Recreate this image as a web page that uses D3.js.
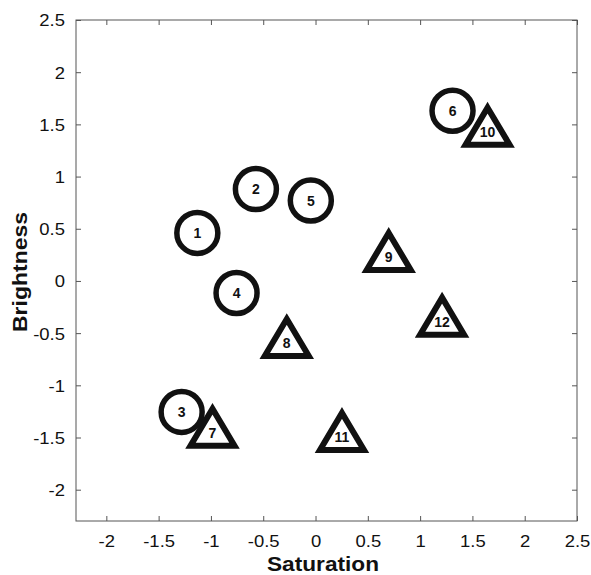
<!DOCTYPE html>
<html>
<head>
<meta charset="utf-8">
<script src="https://cdn.jsdelivr.net/npm/d3@7"></script>
<style>
  html, body { margin: 0; padding: 0; background: #fff; }
  svg { display: block; font-family: Arial, "Liberation Sans", Helvetica, sans-serif; }
</style>
</head>
<body>
<svg id="chart" width="591" height="575"></svg>
<script>
// ---- data ----
const circleLabels = ["1", "2", "3", "4", "5", "6"];
const circleX = [-1.13, -0.57, -1.28, -0.755, -0.045, 1.31];
const circleY = [0.46, 0.88, -1.255, -0.115, 0.77, 1.63];

const triLabels = ["7", "8", "9", "10", "11", "12"];
const triX = [-0.985, -0.275, 0.70, 1.645, 0.253, 1.21];
const triY = [-1.455, -0.595, 0.23, 1.43, -1.495, -0.39];

const xTicks = [-2, -1.5, -1, -0.5, 0, 0.5, 1, 1.5, 2, 2.5];
const yTicks = [-2, -1.5, -1, -0.5, 0, 0.5, 1, 1.5, 2, 2.5];
const xDomain = [-2.29, 2.5];
const yDomain = [-2.3, 2.5];
const xTitle = "Saturation";
const yTitle = "Brightness";

// ---- layout ----
const L = 76, R = 577, T = 20, B = 521;
const svg = d3.select("#chart");
const x = d3.scaleLinear().domain(xDomain).range([L, R]);
const y = d3.scaleLinear().domain(yDomain).range([B, T]);
const fmt = d => String(d);
const axisColor = "#555";
const sx = 1.12;

// bottom axis (ticks inward)
const gx = svg.append("g").attr("transform", `translate(0,${B})`)
  .call(d3.axisBottom(x).tickValues(xTicks).tickFormat(fmt).tickSizeInner(-5).tickSizeOuter(0).tickPadding(14));
// left axis (ticks inward)
const gy = svg.append("g").attr("transform", `translate(${L},0)`)
  .call(d3.axisLeft(y).tickValues(yTicks).tickFormat(fmt).tickSizeInner(-5).tickSizeOuter(0).tickPadding(11));
// top & right (ticks only)
const gt = svg.append("g").attr("transform", `translate(0,${T})`)
  .call(d3.axisTop(x).tickValues(xTicks).tickFormat("").tickSizeInner(-5).tickSizeOuter(0));
const gr = svg.append("g").attr("transform", `translate(${R},0)`)
  .call(d3.axisRight(y).tickValues(yTicks).tickFormat("").tickSizeInner(-5).tickSizeOuter(0));

[gx, gy, gt, gr].forEach(g => {
  g.select(".domain").remove();
  g.selectAll(".tick line").attr("stroke", axisColor).attr("stroke-width", 1);
});
gx.selectAll(".tick text").attr("font-size", 16.5).attr("fill", "#111")
  .attr("transform", `scale(${sx},1)`);
gy.selectAll(".tick text").attr("font-size", 16.5).attr("fill", "#111")
  .attr("dy", "0.36em");
gy.selectAll(".tick text").each(function () {
  const t = d3.select(this);
  const xx = +t.attr("x");
  t.attr("x", xx / sx).attr("transform", `scale(${sx},1)`);
});

// box
svg.append("rect")
  .attr("x", L).attr("y", T).attr("width", R - L).attr("height", B - T)
  .attr("fill", "none").attr("stroke", axisColor).attr("stroke-width", 1);

// axis titles
svg.append("text")
  .attr("x", 323).attr("y", 571)
  .attr("text-anchor", "middle").attr("font-size", 21).attr("font-weight", "bold")
  .attr("fill", "#111")
  .attr("textLength", 112).attr("lengthAdjust", "spacingAndGlyphs")
  .text(xTitle);
svg.append("text")
  .attr("transform", `translate(27,272) rotate(-90)`)
  .attr("text-anchor", "middle").attr("font-size", 21).attr("font-weight", "bold")
  .attr("fill", "#111")
  .attr("textLength", 120).attr("lengthAdjust", "spacingAndGlyphs")
  .text(yTitle);

// markers
const circles = circleLabels.map((lab, i) => ({ lab, x: circleX[i], y: circleY[i] }));
const tris = triLabels.map((lab, i) => ({ lab, x: triX[i], y: triY[i] }));

const cg = svg.append("g").selectAll("g").data(circles).join("g")
  .attr("transform", d => `translate(${x(d.x)},${y(d.y)})`);
cg.append("circle").attr("r", 20.5).attr("fill", "#fff")
  .attr("stroke", "#111").attr("stroke-width", 5.5);
cg.append("text").attr("text-anchor", "middle").attr("dy", "0.36em")
  .attr("font-size", 14).attr("font-weight", "bold").attr("fill", "#111")
  .text(d => d.lab);

const triPath = "M0,-24L22,13L-22,13Z";
const tg = svg.append("g").selectAll("g").data(tris).join("g")
  .attr("transform", d => `translate(${x(d.x)},${y(d.y)})`);
tg.append("path").attr("d", triPath).attr("fill", "#fff")
  .attr("stroke", "#111").attr("stroke-width", 6).attr("stroke-linejoin", "miter");
tg.append("text").attr("text-anchor", "middle").attr("dy", "0.36em")
  .attr("font-size", 14).attr("font-weight", "bold").attr("fill", "#111")
  .text(d => d.lab);
</script>
</body>
</html>
